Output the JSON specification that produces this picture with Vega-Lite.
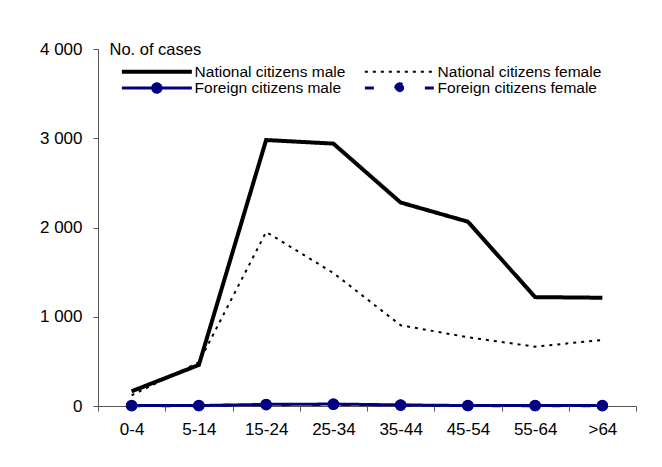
{
  "$schema": "https://vega.github.io/schema/vega-lite/v6.json",
  "width": 538,
  "height": 357,
  "autosize": "none",
  "padding": {"left": 98, "top": 49, "right": 26, "bottom": 61},
  "background": "white",
  "config": {"view": {"stroke": null}, "font": "Liberation Sans"},
  "data": {
    "values": [
      {"age": "0-4", "series": "National citizens male", "cases": 165},
      {"age": "5-14", "series": "National citizens male", "cases": 460},
      {"age": "15-24", "series": "National citizens male", "cases": 2980},
      {"age": "25-34", "series": "National citizens male", "cases": 2940},
      {"age": "35-44", "series": "National citizens male", "cases": 2280},
      {"age": "45-54", "series": "National citizens male", "cases": 2065},
      {"age": "55-64", "series": "National citizens male", "cases": 1220},
      {"age": ">64", "series": "National citizens male", "cases": 1213},
      {"age": "0-4", "series": "National citizens female", "cases": 120},
      {"age": "5-14", "series": "National citizens female", "cases": 490},
      {"age": "15-24", "series": "National citizens female", "cases": 1950},
      {"age": "25-34", "series": "National citizens female", "cases": 1490},
      {"age": "35-44", "series": "National citizens female", "cases": 905},
      {"age": "45-54", "series": "National citizens female", "cases": 770},
      {"age": "55-64", "series": "National citizens female", "cases": 665},
      {"age": ">64", "series": "National citizens female", "cases": 740},
      {"age": "0-4", "series": "Foreign citizens male", "cases": 5},
      {"age": "5-14", "series": "Foreign citizens male", "cases": 5},
      {"age": "15-24", "series": "Foreign citizens male", "cases": 18},
      {"age": "25-34", "series": "Foreign citizens male", "cases": 22},
      {"age": "35-44", "series": "Foreign citizens male", "cases": 12},
      {"age": "45-54", "series": "Foreign citizens male", "cases": 5},
      {"age": "55-64", "series": "Foreign citizens male", "cases": 5},
      {"age": ">64", "series": "Foreign citizens male", "cases": 5},
      {"age": "0-4", "series": "Foreign citizens female", "cases": 3},
      {"age": "5-14", "series": "Foreign citizens female", "cases": 4},
      {"age": "15-24", "series": "Foreign citizens female", "cases": 14},
      {"age": "25-34", "series": "Foreign citizens female", "cases": 18},
      {"age": "35-44", "series": "Foreign citizens female", "cases": 9},
      {"age": "45-54", "series": "Foreign citizens female", "cases": 4},
      {"age": "55-64", "series": "Foreign citizens female", "cases": 4},
      {"age": ">64", "series": "Foreign citizens female", "cases": 3}
    ]
  },
  "encoding": {
    "x": {
      "field": "age",
      "type": "ordinal",
      "sort": ["0-4", "5-14", "15-24", "25-34", "35-44", "45-54", "55-64", ">64"],
      "bandPosition": 0.5,
      "scale": {"type": "band", "paddingInner": 0, "paddingOuter": 0},
      "axis": {
        "title": null,
        "tickBand": "extent",
        "tickSize": 5,
        "tickColor": "#555555",
        "domainColor": "#555555",
        "labelFontSize": 17,
        "labelColor": "#000000",
        "labelPadding": 10,
        "labelAngle": 0,
        "grid": false
      }
    },
    "y": {
      "field": "cases",
      "type": "quantitative",
      "scale": {"domain": [0, 4000], "nice": false},
      "axis": {
        "values": [0, 1000, 2000, 3000, 4000],
        "labelExpr": "replace(format(datum.value, ','), ',', ' ')",
        "grid": false,
        "tickSize": 5,
        "tickColor": "#555555",
        "domainColor": "#555555",
        "labelFontSize": 17,
        "labelColor": "#000000",
        "labelPadding": 11,
        "title": "No. of cases",
        "titleAngle": 0,
        "titleX": 11,
        "titleY": 5,
        "titleAlign": "left",
        "titleBaseline": "alphabetic",
        "titleFontWeight": "normal",
        "titleFontSize": 16.5,
        "titleColor": "#000000"
      }
    },
    "color": {
      "field": "series",
      "type": "nominal",
      "scale": {
        "domain": ["National citizens male", "National citizens female", "Foreign citizens male", "Foreign citizens female"],
        "range": ["#000000", "#000000", "#000080", "#000080"]
      },
      "legend": {
        "title": null,
        "orient": "none",
        "direction": "horizontal",
        "legendX": 21.6,
        "legendY": 15.2,
        "columns": 2,
        "columnPadding": 17,
        "rowPadding": 0.3,
        "clipHeight": 15,
        "symbolSize": 4900,
        "symbolOffset": 29.5,
        "labelOffset": 30,
        "padding": 0,
        "labelFontSize": 15.5,
        "labelColor": "#000000",
        "labelLimit": 0,
        "encode": {
          "symbols": {
            "update": {
              "shape": {"signal": "indexof(datum.label, 'Foreign') == 0 ? 'M-1,0H1M-0.12,0A0.12,0.12,0,1,1,0.12,0A0.12,0.12,0,1,1,-0.12,0Z' : 'M-1,0H1'"},
              "fill": {"signal": "indexof(datum.label, 'Foreign') == 0 ? '#000080' : 'transparent'"},
              "strokeWidth": {"signal": "datum.label == 'National citizens male' ? 4 : (datum.label == 'National citizens female' ? 2 : 3)"},
              "opacity": {"value": 1}
            }
          }
        }
      }
    },
    "strokeDash": {
      "field": "series",
      "type": "nominal",
      "scale": {
        "domain": ["National citizens male", "National citizens female", "Foreign citizens male", "Foreign citizens female"],
        "range": [[1, 0], [3, 5], [1, 0], [9, 21]]
      }
    }
  },
  "layer": [
    {
      "transform": [{"filter": "datum.series == 'National citizens female'"}],
      "mark": {"type": "line", "strokeWidth": 2}
    },
    {
      "transform": [{"filter": "datum.series == 'National citizens male'"}],
      "mark": {"type": "line", "strokeWidth": 4}
    },
    {
      "transform": [{"filter": "indexof(datum.series, 'Foreign') == 0"}],
      "mark": {"type": "line", "strokeWidth": 3}
    },
    {
      "transform": [{"filter": "indexof(datum.series, 'Foreign') == 0"}],
      "mark": {"type": "point", "filled": true, "size": 130, "opacity": 1}
    }
  ]
}
